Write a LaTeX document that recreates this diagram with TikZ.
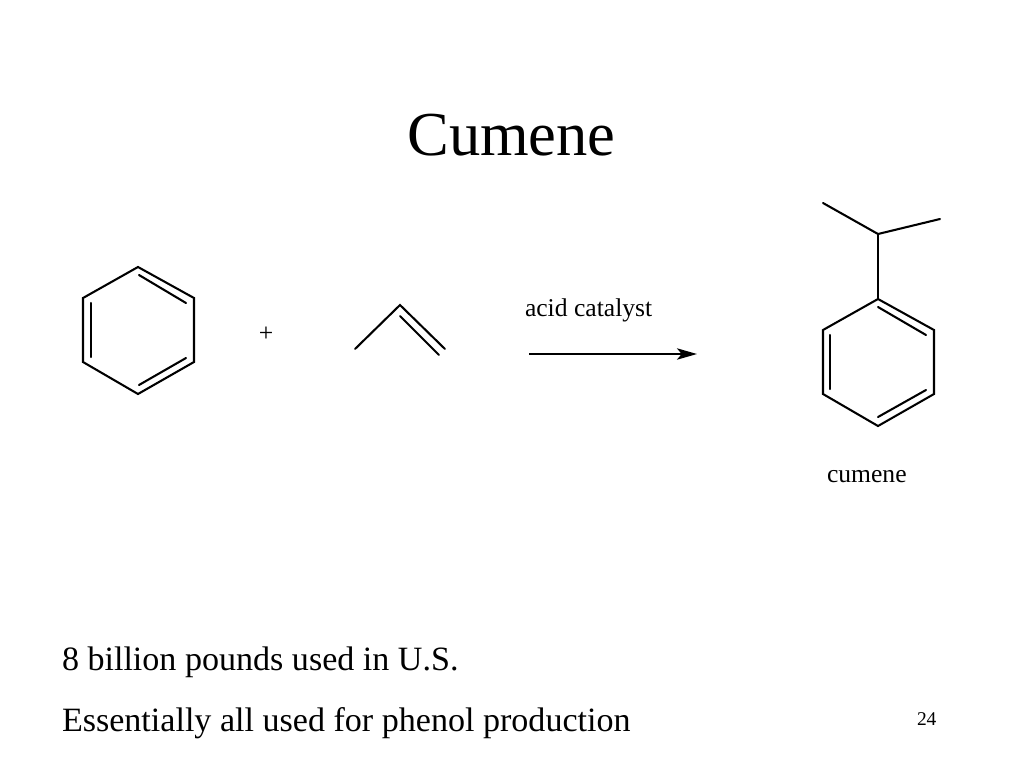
\documentclass[tikz,border=0pt]{standalone}
\usepackage{fontspec}
\setmainfont{Liberation Serif}
\usetikzlibrary{arrows.meta}
\tikzset{
	bond/.style={line width=1.55pt,line cap=round,line join=miter},
	txt/.style={inner sep=0pt,outer sep=0pt,anchor=base west,text=black}
}
\begin{document}
\begin{tikzpicture}[x=0.75pt,y=-0.75pt]
		\useasboundingbox (0,0) rectangle (1024,768);
		% benzene
		\coordinate (b1) at (138,267);
		\coordinate (b2) at (194,298);
		\coordinate (b3) at (194,362);
		\coordinate (b4) at (138,394);
		\coordinate (b5) at (83,362);
		\coordinate (b6) at (83,298);
		\coordinate (bi1) at (139,275);
		\coordinate (bi2) at (186,303);
		\coordinate (bi3) at (186,358);
		\coordinate (bi4) at (139,385);
		\coordinate (bi5) at (91,357);
		\coordinate (bi6) at (91,303);
		\draw[bond] (b1) -- (b2) -- (b3) -- (b4) -- (b5) -- (b6) -- cycle;
		\draw[bond] (bi1) -- (bi2);
		\draw[bond] (bi3) -- (bi4);
		\draw[bond] (bi5) -- (bi6);
		% propene
		\coordinate (p1) at (355,349);
		\coordinate (p2) at (400,305);
		\coordinate (p3) at (445,349);
		\coordinate (pi2) at (400,316);
		\coordinate (pi3) at (439,355);
		\draw[bond] (p1) -- (p2) -- (p3);
		\draw[bond] (pi2) -- (pi3);
		% arrow
		\coordinate (a1) at (529,354);
		\coordinate (a2) at (697,354);
		\draw[bond,line cap=butt,-{Stealth[length=15pt,width=8.5pt,inset=3.5pt]}] (a1) -- (a2);
		% cumene
		\coordinate (c1) at (878,299);
		\coordinate (c2) at (934,330);
		\coordinate (c3) at (934,394);
		\coordinate (c4) at (878,426);
		\coordinate (c5) at (823,394);
		\coordinate (c6) at (823,330);
		\coordinate (ci1) at (878,307);
		\coordinate (ci2) at (926,335);
		\coordinate (ci3) at (926,390);
		\coordinate (ci4) at (878,417);
		\coordinate (ci5) at (830,389);
		\coordinate (ci6) at (830,335);
		\coordinate (m0) at (878,234);
		\coordinate (m1) at (823,203);
		\coordinate (m2) at (940,219);
		\draw[bond] (c1) -- (c2) -- (c3) -- (c4) -- (c5) -- (c6) -- cycle;
		\draw[bond] (ci1) -- (ci2);
		\draw[bond] (ci3) -- (ci4);
		\draw[bond] (ci5) -- (ci6);
		\draw[bond] (c1) -- (m0);
		\draw[bond] (m1) -- (m0) -- (m2);
		% text
		\node[txt,anchor=base] (title) at (511.5,155) {\fontsize{46.9}{50}\selectfont Cumene};
		\node[txt,anchor=base] (plus) at (266,341) {\fontsize{19.2}{22}\selectfont +};
		\node[txt] (cat) at (525,316) {\fontsize{19.2}{22}\selectfont acid catalyst};
		\node[txt] (cname) at (827,482) {\fontsize{19.2}{22}\selectfont cumene};
		\node[txt] (line1) at (62,670) {\fontsize{25.55}{30}\selectfont 8 billion pounds used in U.S.};
		\node[txt] (line2) at (62,731) {\fontsize{25.55}{30}\selectfont Essentially all used for phenol production};
		\node[txt] (page) at (917,725) {\fontsize{14.6}{18}\selectfont 24};
	\end{tikzpicture}
\end{document}
